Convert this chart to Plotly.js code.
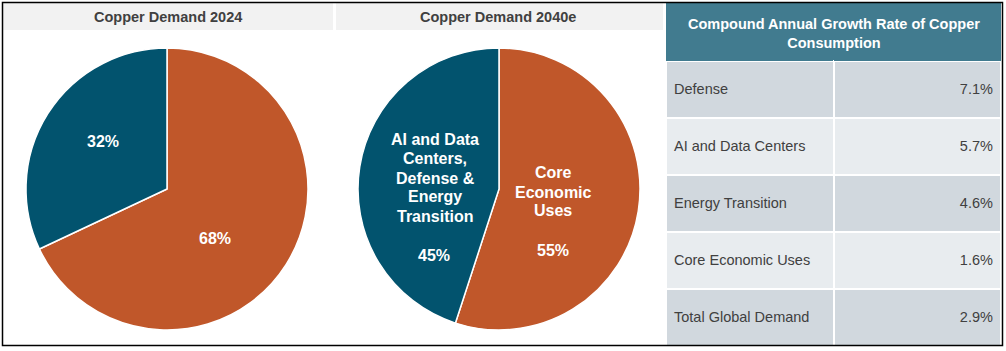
<!DOCTYPE html>
<html><head><meta charset="utf-8">
<script src="https://cdn.plot.ly/plotly-3.0.1.min.js"></script>
<style>html,body{margin:0;padding:0;background:#fff}#chart{width:1006px;height:351px}</style>
</head><body><div id="chart"></div>
<script>
// Data
const pieLabels2024 = ["Core Economic Uses", "AI and Data Centers, Defense & Energy Transition"];
const pieValues2024 = [68, 32];
const pieLabels2040 = ["Core Economic Uses", "AI and Data Centers, Defense & Energy Transition"];
const pieValues2040 = [55, 45];
const pieColors = ["#c0572a", "#02536e"];
const panelTitles = ["Copper Demand 2024", "Copper Demand 2040e"];
const tableTitle = "Compound Annual Growth Rate of Copper<br>Consumption";
const tableCategories = ["Defense", "AI and Data Centers", "Energy Transition", "Core Economic Uses", "Total Global Demand"];
const tableValues = [7.1, 5.7, 4.6, 1.6, 2.9];

const W = 1006, H = 351;
const px = x => x / W;
const py = y => (H - y) / H;

const rowColors = tableCategories.map((_, i) => i % 2 === 0 ? "#d1d8de" : "#e8ecef");
// leading small blank line pushes the text to the vertical middle of each row
const cellText = s => "\u00a0<br><span style='font-size:14.5px'>" + s + "</span>";

const traces = [
  {type: "pie", labels: pieLabels2024, values: pieValues2024, sort: false, direction: "clockwise",
   marker: {colors: pieColors, line: {color: "#ffffff", width: 1.5}}, textinfo: "none", hoverinfo: "label+percent",
   domain: {x: [px(26), px(308)], y: [py(330), py(48)]}, showlegend: false},
  {type: "pie", labels: pieLabels2040, values: pieValues2040, sort: false, direction: "clockwise",
   marker: {colors: pieColors, line: {color: "#ffffff", width: 1.5}}, textinfo: "none", hoverinfo: "label+percent",
   domain: {x: [px(358), px(640)], y: [py(330), py(48)]}, showlegend: false},
  {type: "table", domain: {x: [px(666), px(1002)], y: [py(346), py(3)]}, columnwidth: [168, 168],
   header: {values: [[""], [""]], fill: {color: "#417b8f"}, line: {color: "#417b8f", width: 0},
            align: "center", height: 58, font: {family: "Liberation Sans, Arial", size: 14.5, color: "#ffffff"}},
   cells: {values: [tableCategories.map(cellText), tableValues.map(v => cellText(v.toFixed(1) + "%"))],
           fill: {color: [rowColors, rowColors]}, line: {color: "#ffffff", width: 2},
           align: ["left", "right"], height: 57,
           font: {family: "Liberation Sans, Arial", size: 11.5, color: "#404040"}}}
];

const white = {family: "Liberation Sans, Arial", size: 16, color: "#ffffff", weight: "bold"};
function ann(text, x, y, font) {
  return {text: text, x: px(x), y: py(y), xref: "paper", yref: "paper", showarrow: false,
          xanchor: "center", yanchor: "middle", font: font};
}
const annotations = [
  ann(panelTitles[0], 167.5, 17, {family: "Liberation Sans, Arial", size: 14.5, color: "#404040", weight: "bold"}),
  ann(panelTitles[1], 497.5, 17, {family: "Liberation Sans, Arial", size: 14.5, color: "#404040", weight: "bold"}),
  ann(tableTitle, 834, 33, {family: "Liberation Sans, Arial", size: 14.5, color: "#ffffff", weight: "bold"}),
  ann(pieValues2024[1] + "%", 103, 141, white),
  ann(pieValues2024[0] + "%", 215, 239, white),
  ann(pieValues2040[1] + "%", 434, 255, white),
  ann(pieValues2040[0] + "%", 553, 250, white)
];
["AI and Data", "Centers,", "Defense &", "Energy", "Transition"].forEach((t, i) => annotations.push(ann(t, 435, 140 + i * 19, white)));
["Core", "Economic", "Uses"].forEach((t, i) => annotations.push(ann(t, 553, 173 + i * 19, white)));

const shapes = [
  {type: "rect", xref: "paper", yref: "paper", x0: px(3), x1: px(333), y0: py(30), y1: py(3), fillcolor: "#f2f2f2", line: {width: 0}, layer: "below"},
  {type: "rect", xref: "paper", yref: "paper", x0: px(336), x1: px(663), y0: py(30), y1: py(3), fillcolor: "#f2f2f2", line: {width: 0}, layer: "below"},
  {type: "rect", xref: "paper", yref: "paper", x0: px(2.5), x1: px(1002.5), y0: py(345.5), y1: py(2.5), fillcolor: "rgba(0,0,0,0)", line: {color: "#000000", width: 1.5}, layer: "above"}
];

Plotly.newPlot("chart", traces, {
  width: W, height: H, margin: {l: 0, r: 0, t: 0, b: 0},
  paper_bgcolor: "#ffffff", plot_bgcolor: "#ffffff",
  font: {family: "Liberation Sans, Arial"},
  showlegend: false, annotations: annotations, shapes: shapes
}, {staticPlot: true, displayModeBar: false});
</script></body></html>
